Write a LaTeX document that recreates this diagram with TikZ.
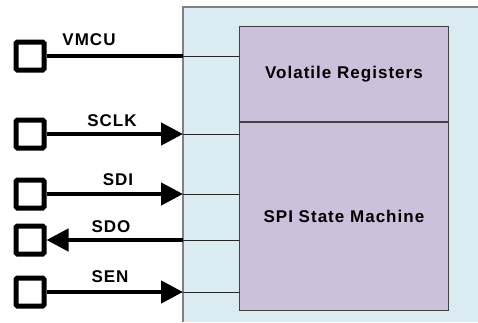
\documentclass[tikz,border=0pt]{standalone}
\usepackage{fontspec}
\setmainfont{Liberation Sans}
\newfontfamily\pinfont[LetterSpace=6]{Liberation Sans}
\usetikzlibrary{positioning,arrows.meta}
\definecolor{chipblue}{HTML}{DAEBF2}
\definecolor{blocklilac}{HTML}{CCC0DA}
\tikzset{
pad/.style={
  draw=black,
  line width=5pt,
  rounded corners=1.5pt,
  minimum size=28pt,
  inner sep=0pt
  },
block/.style={
  draw=black!75,
  fill=blocklilac,
  line width=0.8pt,
  minimum width=209pt,
  inner sep=0pt,
  font=\pinfont\fontsize{17}{20}\selectfont\bfseries
  },
pinlbl/.style={
  anchor=base,
  inner sep=0pt,
  font=\pinfont\fontsize{17}{20}\selectfont\bfseries
  },
wire/.style={line width=4.5pt},
trace/.style={draw=black!85,line width=0.8pt}
}

\begin{document}
\begin{tikzpicture}[x=1pt,y=-1pt,>={Triangle[length=22pt,width=22pt]}]
\useasboundingbox (0,0) rectangle (478,322);

% chip body, cut off at the right and bottom
\fill[chipblue] (183,7) rectangle (478,322);
\draw[gray,line width=1.2pt] (183,322) -- (183,7) -- (478,7);

\node[block,minimum height=95pt,anchor=north west] (regs) at (239,26) {Volatile Registers};
\node[block,minimum height=188pt,anchor=north] (fsm) at (regs.south) {SPI State Machine};

% pads
\node[pad] (vmcu) at (30,56) {};
\node[pad] (sclk) at (30,134) {};
\node[pad] (sdi) at (30,194) {};
\node[pad] (sdo) at (30,240) {};
\node[pad] (sen) at (30,292) {};

% pins on the chip edge
\coordinate (vmcupin) at (183,56);
\coordinate (sclkpin) at (183,134);
\coordinate (sdipin) at (183,194);
\coordinate (sdopin) at (183,240);
\coordinate (senpin) at (183,292);

\node[pinlbl] (vmculbl) at (89,45) {VMCU};
\node[pinlbl] (sclklbl) at (112,126) {SCLK};
\node[pinlbl] (sdilbl) at (118,185) {SDI};
\node[pinlbl] (sdolbl) at (111,232) {SDO};
\node[pinlbl] (senlbl) at (110,282) {SEN};

\draw[wire] (vmcu) -- (vmcupin);
\draw[wire,->] (sclk) -- (sclkpin);
\draw[wire,->] (sdi) -- (sdipin);
\draw[wire,<-] (sdo) -- (sdopin);
\draw[wire,->] (sen) -- (senpin);

\draw[trace] (vmcupin) -- (vmcupin -| regs.west);
\draw[trace] (sclkpin) -- (sclkpin -| fsm.west);
\draw[trace] (sdipin) -- (sdipin -| fsm.west);
\draw[trace] (sdopin) -- (sdopin -| fsm.west);
\draw[trace] (senpin) -- (senpin -| fsm.west);
\end{tikzpicture}
\end{document}
